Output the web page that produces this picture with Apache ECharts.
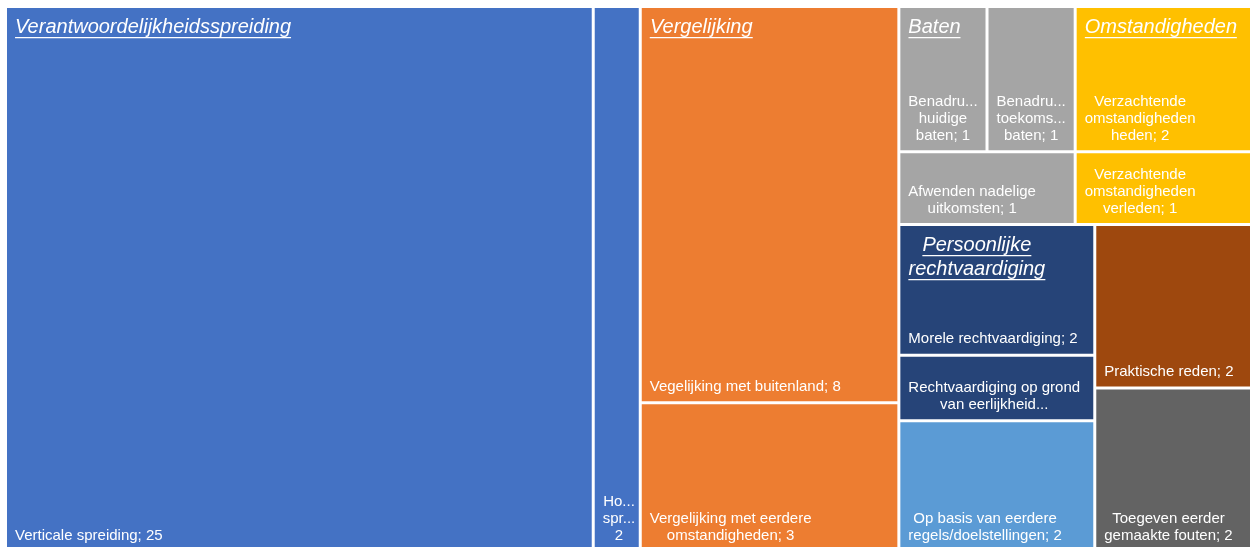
<!DOCTYPE html>
<html>
<head>
<meta charset="utf-8">
<script src="https://cdn.jsdelivr.net/npm/echarts@6/dist/echarts.min.js"></script>
<style>
  html, body { margin: 0; padding: 0; background: #fff; }
  #chart { width: 1252px; height: 547px; }
</style>
</head>
<body>
<div id="chart"></div>
<script>
// hoofdcategorieen (volgorde = volgorde in de treemap)
const groupNames = [
  'Verantwoordelijkheidsspreiding', 'Vergelijking', 'Baten', 'Omstandigheden',
  'Persoonlijke rechtvaardiging', 'Op basis van eerdere regels/doelstellingen',
  'Praktische reden', 'Toegeven eerder gemaakte fouten'
];
// titels zoals ze in de treemap staan
const groupTitles = [
  ['Verantwoordelijkheidsspreiding'], ['Vergelijking'], ['Baten'], ['Omstandigheden'],
  ['Persoonlijke', 'rechtvaardiging'], [], [], []
];
const groupColors = ['#4472C4', '#ED7D31', '#A5A5A5', '#FFC000', '#264478', '#5B9BD5', '#9E480E', '#636363'];

// subcategorieen
const leafGroup = [0, 0, 1, 1, 2, 2, 2, 3, 3, 4, 4, 5, 6, 7];
const leafNames = [
  'Verticale spreiding', 'Horizontale spreiding',
  'Vegelijking met buitenland', 'Vergelijking met eerdere omstandigheden',
  'Benadrukken huidige baten', 'Benadrukken toekomstige baten', 'Afwenden nadelige uitkomsten',
  'Verzachtende omstandigheden heden', 'Verzachtende omstandigheden verleden',
  'Morele rechtvaardiging', 'Rechtvaardiging op grond van eerlijkheid',
  'Op basis van eerdere regels/doelstellingen', 'Praktische reden', 'Toegeven eerder gemaakte fouten'
];
const leafValues = [25, 2, 8, 3, 1, 1, 1, 2, 1, 2, 1, 2, 2, 2];
// labels zoals getoond (afgekapt zoals in Excel)
const leafLabels = [
  ['Verticale spreiding; 25'], ['Ho...', 'spr...', '2'],
  ['Vegelijking met buitenland; 8'], ['Vergelijking met eerdere', 'omstandigheden; 3'],
  ['Benadru...', 'huidige', 'baten; 1'], ['Benadru...', 'toekoms...', 'baten; 1'],
  ['Afwenden nadelige', 'uitkomsten; 1'],
  ['Verzachtende', 'omstandigheden', 'heden; 2'], ['Verzachtende', 'omstandigheden', 'verleden; 1'],
  ['Morele rechtvaardiging; 2'], ['Rechtvaardiging op grond', 'van eerlijkheid...'],
  ['Op basis van eerdere', 'regels/doelstellingen; 2'], ['Praktische reden; 2'],
  ['Toegeven eerder', 'gemaakte fouten; 2']
];

const FONT = 'Liberation Sans';
const TITLE_SIZE = 20;
const LABEL_SIZE = 15;

const measure = document.createElement('canvas').getContext('2d');
function textWidth(s) {
  measure.font = 'italic ' + TITLE_SIZE + 'px "' + FONT + '"';
  return measure.measureText(s).width;
}

function groupSum(g) {
  let s = 0;
  leafValues.forEach((v, i) => { if (leafGroup[i] === g) s += v; });
  return s;
}

function leafNode(i) {
  return {
    name: leafNames[i],
    value: leafValues[i],
    itemStyle: { color: groupColors[leafGroup[i]] }
  };
}

// boom opbouwen
const treeData = groupNames.map((name, g) => {
  const idx = [];
  leafGroup.forEach((gg, i) => { if (gg === g) idx.push(i); });
  if (idx.length === 1 && leafNames[idx[0]] === name) {
    return leafNode(idx[0]);
  }
  return {
    name: name,
    value: groupSum(g),
    itemStyle: { color: groupColors[g] },
    children: idx.map(leafNode)
  };
});

// iets hoger dan het venster (onderkant valt net weg, zoals in het origineel)
const box = { left: 7, top: 8, width: 1243, height: 542 };

let myChart = echarts.init(document.getElementById('chart'));
let option = {
  animation: false,
  series: [
    Object.assign({
      type: 'treemap',
      silent: true,
      roam: false,
      nodeClick: false,
      sort: false,
      squareRatio: 1,
      breadcrumb: { show: false },
      label: { show: false },
      upperLabel: { show: false },
      levels: [
        { itemStyle: { borderWidth: 0, gapWidth: 3, borderColor: '#fff' } },
        { itemStyle: { borderWidth: 0, gapWidth: 3, borderColor: '#fff' } },
        { itemStyle: { borderWidth: 0, gapWidth: 0 } }
      ],
      data: treeData
    }, box)
  ]
};
myChart.setOption(option);

// labels op basis van de berekende treemap-layout
function addLabels() {
  const seriesModel = myChart.getModel().getSeriesByIndex(0);
  const tree = seriesModel.getData().tree;
  const graphics = [];
  function walk(node, ox, oy) {
    const lay = node.getLayout() || { x: 0, y: 0, width: 0, height: 0 };
    const x = ox + lay.x, y = oy + lay.y;
    if (node.depth > 0 && node.children.length === 0) {
      const li = leafNames.indexOf(node.name);
      graphics.push({
        type: 'text',
        silent: true,
        z: 10,
        x: box.left + x + 8,
        y: box.top + y + lay.height - 6,
        style: {
          text: leafLabels[li].map(l => '{c|' + l + '}').join('\n'),
          verticalAlign: 'bottom',
          align: 'left',
          rich: {
            c: { fontFamily: FONT, fontSize: LABEL_SIZE, fill: '#fff', lineHeight: 17, align: 'center' }
          }
        }
      });
    }
    if (node.depth === 1 && node.children.length > 0) {
      const g = groupNames.indexOf(node.name);
      const lines = groupTitles[g];
      const rich = {
        t: { fontFamily: FONT, fontSize: TITLE_SIZE, fontStyle: 'italic', fill: '#fff', lineHeight: 20, align: 'center' }
      };
      const parts = lines.map((l, k) => {
        rich['u' + k] = {
          width: Math.round(textWidth(l)), height: 1.3, lineHeight: 4,
          backgroundColor: '#fff', verticalAlign: 'top', align: 'center'
        };
        return '{t|' + l + '}\n{u' + k + '| }';
      });
      graphics.push({
        type: 'text',
        silent: true,
        z: 11,
        x: box.left + x + 8,
        y: box.top + y + 9,
        style: { text: parts.join('\n'), align: 'left', verticalAlign: 'top', rich: rich }
      });
    }
    node.children.forEach(c => walk(c, x, y));
  }
  walk(tree.root, 0, 0);
  myChart.setOption({ graphic: graphics });
}
addLabels();
window.onresize = myChart.resize;
</script>
</body>
</html>
